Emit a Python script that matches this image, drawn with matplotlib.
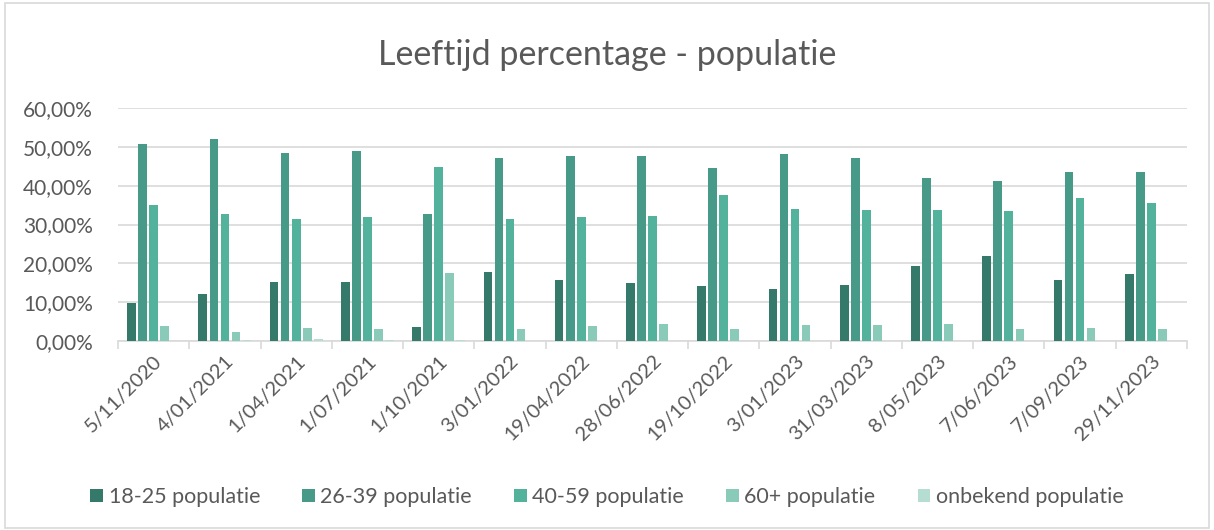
import matplotlib.pyplot as plt
from matplotlib.ticker import FuncFormatter, FixedLocator
from matplotlib.patches import Rectangle
import numpy as np

dates = ["5/11/2020", "4/01/2021", "1/04/2021", "1/07/2021", "1/10/2021",
         "3/01/2022", "19/04/2022", "28/06/2022", "19/10/2022", "3/01/2023",
         "31/03/2023", "8/05/2023", "7/06/2023", "7/09/2023", "29/11/2023"]
pop_18_25 = [9.8, 12.2, 15.3, 15.2, 3.7, 17.7, 15.8, 14.9, 14.1, 13.3, 14.5, 19.4, 21.9, 15.6, 17.2]
pop_26_39 = [50.7, 51.9, 48.4, 48.8, 32.8, 47.0, 47.7, 47.7, 44.5, 48.1, 47.0, 42.1, 41.1, 43.6, 43.4]
pop_40_59 = [35.0, 32.6, 31.5, 32.0, 44.9, 31.4, 32.0, 32.3, 37.7, 33.9, 33.8, 33.7, 33.4, 36.9, 35.6]
pop_60 = [3.8, 2.2, 3.3, 3.1, 17.6, 3.2, 3.8, 4.4, 3.0, 4.0, 4.2, 4.3, 3.0, 3.3, 3.1]
pop_onbekend = [0.0, 0.3, 0.5, 0.2, 0.2, 0.0, 0.0, 0.0, 0.0, 0.0, 0.0, 0.0, 0.0, 0.0, 0.0]

series = [("18-25 populatie", pop_18_25, "#35796B"),
          ("26-39 populatie", pop_26_39, "#479A87"),
          ("40-59 populatie", pop_40_59, "#52B29B"),
          ("60+ populatie", pop_60, "#8ACAB8"),
          ("onbekend populatie", pop_onbekend, "#B5DDD2")]

plt.rcParams['font.family'] = ['Lato', 'DejaVu Sans']
txt = "#595959"

fig = plt.figure(figsize=(12.14, 5.30), dpi=100)
ax = fig.add_axes([118/1214, 1-341/530, (1187-118)/1214, (341-108)/530])

x = np.arange(len(dates))
step = 0.155
w = 0.122
for i, (name, vals, col) in enumerate(series):
    ax.bar(x + (i - 2) * step, vals, width=w, color=col, label=name, zorder=3)

ax.set_xlim(-0.5, len(dates) - 0.5)
ax.set_ylim(0, 60)
ax.set_yticks(range(0, 61, 10))
ax.yaxis.set_major_formatter(FuncFormatter(lambda v, p: ("%.2f%%" % v).replace(".", ",")))
ax.grid(axis='y', color="#D9D9D9", linewidth=1.2, zorder=0)
ax.set_xticks(x)
ax.set_xticklabels(dates, rotation=45, ha='right', rotation_mode='anchor', fontsize=14.5, color=txt)
ax.xaxis.set_minor_locator(FixedLocator(np.arange(-0.5, len(dates), 1)))
ax.tick_params(axis='x', which='major', length=0, pad=8)
ax.tick_params(axis='x', which='minor', length=6, color="#D9D9D9", width=1.2)
ax.tick_params(axis='y', length=0, labelsize=15, labelcolor=txt, pad=18)
for s in ['top', 'right', 'left']:
    ax.spines[s].set_visible(False)
ax.spines['bottom'].set_color("#D9D9D9")
ax.spines['bottom'].set_linewidth(1.2)

fig.text(0.5, 1-55/530, "Leeftijd percentage - populatie", ha='center', va='center',
         fontsize=24.5, color=txt)

fig.legend(loc='center', bbox_to_anchor=(0.5, 1-497/530), ncol=5, frameon=False,
           fontsize=15.5, labelcolor=txt, handlelength=0.6, handleheight=0.6,
           handletextpad=0.25, columnspacing=1.95)

fig.patches.append(Rectangle((0.004, 0.004), 0.992, 0.99, transform=fig.transFigure,
                             fill=False, edgecolor="#D9D9D9", linewidth=1.2))

fig.savefig("out.png", dpi=100, facecolor="white")
